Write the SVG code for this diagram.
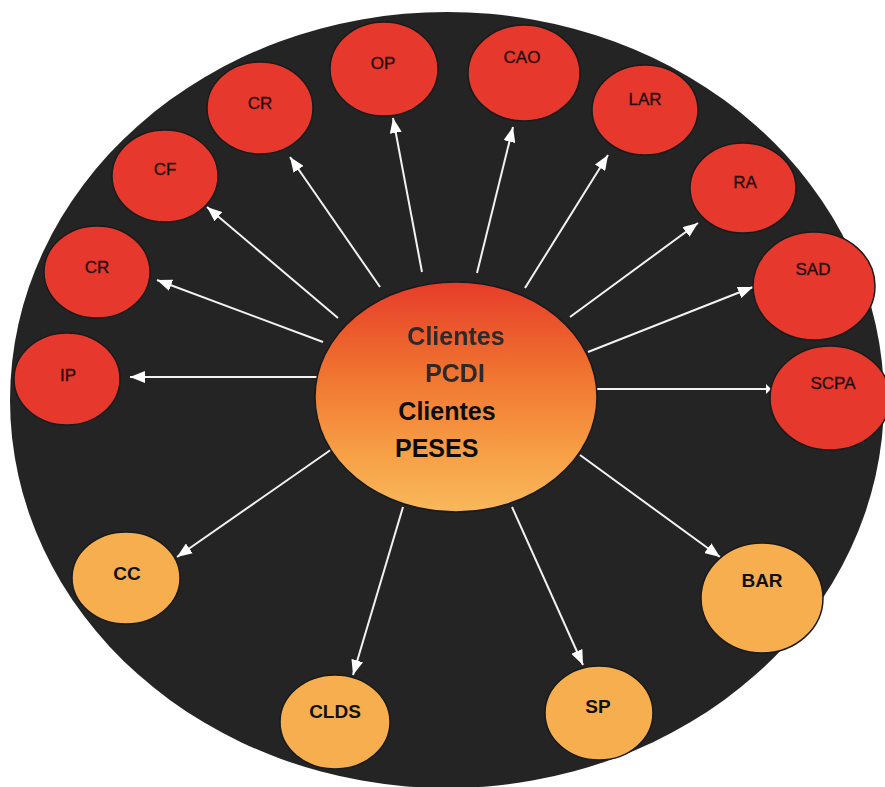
<svg xmlns="http://www.w3.org/2000/svg" width="885" height="787" viewBox="0 0 885 787">
  <defs>
    <linearGradient id="gCenter" x1="0" y1="0" x2="0" y2="1">
      <stop offset="0" stop-color="#e63c2a"/>
      <stop offset="0.4" stop-color="#f07430"/>
      <stop offset="0.75" stop-color="#f7a046"/>
      <stop offset="1" stop-color="#f9b85c"/>
    </linearGradient>
    <marker id="arr" markerUnits="userSpaceOnUse" markerWidth="16" markerHeight="12" refX="15" refY="6" orient="auto">
      <path d="M0,0 L15,6 L0,12 z" fill="#ffffff"/>
    </marker>
    <marker id="arrSmall" markerUnits="userSpaceOnUse" markerWidth="6" markerHeight="12" refX="5" refY="6" orient="auto">
      <path d="M0,1 L5,6 L0,11 z" fill="#ffffff"/>
    </marker>
    <filter id="soft" x="-10%" y="-10%" width="120%" height="120%">
      <feGaussianBlur stdDeviation="0.6"/>
    </filter>
  </defs>
  <style>
    .red { fill: #e6382c; stroke: #1a1a1a; stroke-width: 1.5; }
    .org { fill: #f7ae4e; stroke: #1a1a1a; stroke-width: 1.5; }
    .rl { font-family: "Liberation Sans", "DejaVu Sans", sans-serif; font-size: 17px; fill: #1e0c0b; stroke: #1e0c0b; stroke-width: 0.3; text-anchor: middle; }
    .ol { font-family: "Liberation Sans", "DejaVu Sans", sans-serif; font-size: 19px; font-weight: bold; fill: #111111; text-anchor: middle; }
    .ct { font-family: "Liberation Sans", "DejaVu Sans", sans-serif; font-size: 25px; font-weight: bold; }
    .conn line { stroke: #f2f2f2; stroke-width: 2; marker-end: url(#arr); }
  </style>
  <rect x="0" y="0" width="885" height="787" fill="#ffffff"/>
  <ellipse id="background" cx="447" cy="400" rx="437" ry="388" fill="#242424"/>

  <g id="connectors" class="conn">
    <line x1="317" y1="377" x2="130" y2="377"/>
    <line x1="323" y1="342" x2="157" y2="280"/>
    <line x1="338" y1="318" x2="207" y2="207"/>
    <line x1="380" y1="287" x2="290" y2="157"/>
    <line x1="422" y1="272" x2="393" y2="118"/>
    <line x1="477" y1="273" x2="513" y2="127"/>
    <line x1="525" y1="288" x2="608" y2="155"/>
    <line x1="570" y1="317" x2="698" y2="223"/>
    <line x1="588" y1="352" x2="753" y2="287"/>
    <line x1="597" y1="389" x2="771" y2="389" style="marker-end:url(#arrSmall)"/>
    <line x1="332" y1="449" x2="177" y2="557"/>
    <line x1="403" y1="507" x2="353" y2="675"/>
    <line x1="512" y1="507" x2="583" y2="665"/>
    <line x1="580" y1="455" x2="720" y2="557"/>
  </g>

  <g id="center">
    <ellipse cx="456" cy="397" rx="141" ry="115" fill="url(#gCenter)" stroke="#1a1a1a" stroke-width="1.5"/>
    <g filter="url(#soft)">
      <text class="ct" x="456" y="345" text-anchor="middle" fill="#2e2a2a">Clientes</text>
      <text class="ct" x="455" y="382" text-anchor="middle" fill="#2e2a2a">PCDI</text>
    </g>
    <text class="ct" x="447" y="420" text-anchor="middle" fill="#0d0d0d">Clientes</text>
    <text class="ct" x="395" y="457" fill="#0d0d0d">PESES</text>
  </g>

  <g id="node-ip"><ellipse class="red" cx="67" cy="379" rx="53" ry="46"/><text class="rl" x="68" y="381">IP</text></g>
  <g id="node-cr1"><ellipse class="red" cx="97" cy="272" rx="53" ry="46"/><text class="rl" x="97" y="273">CR</text></g>
  <g id="node-cf"><ellipse class="red" cx="165" cy="176" rx="53" ry="46"/><text class="rl" x="165" y="175">CF</text></g>
  <g id="node-cr2"><ellipse class="red" cx="260" cy="108" rx="53" ry="46"/><text class="rl" x="260" y="109">CR</text></g>
  <g id="node-op"><ellipse class="red" cx="384" cy="69" rx="54" ry="47"/><text class="rl" x="383" y="69">OP</text></g>
  <g id="node-cao"><ellipse class="red" cx="524" cy="73" rx="56" ry="48"/><text class="rl" x="522" y="63">CAO</text></g>
  <g id="node-lar"><ellipse class="red" cx="645" cy="110" rx="53" ry="45"/><text class="rl" x="645" y="105">LAR</text></g>
  <g id="node-ra"><ellipse class="red" cx="743" cy="188" rx="53" ry="45"/><text class="rl" x="745" y="188">RA</text></g>
  <g id="node-sad"><ellipse class="red" cx="814" cy="286" rx="61" ry="54"/><text class="rl" x="813" y="275">SAD</text></g>
  <g id="node-scpa"><ellipse class="red" cx="830" cy="398" rx="60" ry="52"/><text class="rl" x="833" y="389">SCPA</text></g>

  <g id="node-cc"><ellipse class="org" cx="126" cy="578" rx="54" ry="46"/><text class="ol" x="127" y="580">CC</text></g>
  <g id="node-clds"><ellipse class="org" cx="335" cy="722" rx="55" ry="47"/><text class="ol" x="335" y="718">CLDS</text></g>
  <g id="node-sp"><ellipse class="org" cx="599" cy="713" rx="54" ry="47"/><text class="ol" x="598" y="713">SP</text></g>
  <g id="node-bar"><ellipse class="org" cx="762" cy="598" rx="61" ry="55"/><text class="ol" x="762" y="587">BAR</text></g>
</svg>
